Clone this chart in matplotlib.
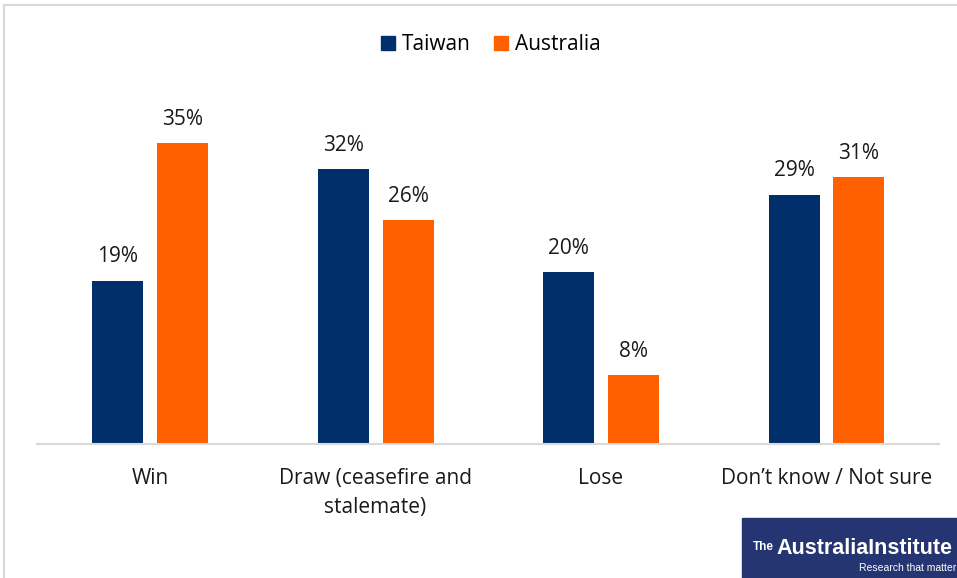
import matplotlib
matplotlib.use("Agg")
import matplotlib.pyplot as plt
from matplotlib.patches import Rectangle
from matplotlib.lines import Line2D

plt.rcParams['font.family'] = ['Open Sans', 'DejaVu Sans']

categories = ["Win", "Draw (ceasefire and\nstalemate)", "Lose", "Don\u2019t know / Not sure"]
series_names = ["Taiwan", "Australia"]
taiwan = [19, 32, 20, 29]
australia = [35, 26, 8, 31]
colors = ["#002F6C", "#FF6000"]

W, H = 957, 578
fig = plt.figure(figsize=(W / 100, H / 100), dpi=100)

# frame lines along the top and left edges
fig.add_artist(Line2D([4 / W, 4 / W], [0, 1 - 5 / H], color="#d9d9d9", lw=1.5))
fig.add_artist(Line2D([4 / W, 1], [1 - 5 / H, 1 - 5 / H], color="#d9d9d9", lw=1.5))

ax = fig.add_axes([37.25 / W, (H - 444) / H, 902 / W, 344 / H])
ax.set_xlim(-0.5, 3.5)
ax.set_ylim(0, 40)

bw = 51 / 225.5
off = 32.5 / 225.5
x = list(range(len(categories)))
for vals, c, d in [(taiwan, colors[0], -off), (australia, colors[1], off)]:
    bars = ax.bar([i + d for i in x], vals, width=bw, color=c)
    for b, v in zip(bars, vals):
        ax.annotate(f"{v}%", (b.get_x() + b.get_width() / 2, v), xytext=(0, 9.5),
                    textcoords="offset points", ha="center", va="bottom",
                    fontsize=15, color="#1a1a1a")

for s in ["top", "right", "left"]:
    ax.spines[s].set_visible(False)
ax.spines["bottom"].set_color("#d9d9d9")
ax.spines["bottom"].set_linewidth(1.5)
ax.set_yticks([])
ax.set_xticks(x)
ax.set_xticklabels(categories, fontsize=15, color="#1a1a1a", linespacing=1.45)
ax.tick_params(axis="x", length=0, pad=17.5)

# legend
handles = [Rectangle((0, 0), 1, 1, color=c) for c in colors]
fig.legend(handles, series_names, loc="center", bbox_to_anchor=(491 / W, 1 - 45 / H),
           ncol=2, frameon=False, fontsize=15, handlelength=0.65, handleheight=0.65,
           handletextpad=0.35, columnspacing=1.1)

# institute badge
fig.add_artist(Rectangle((742 / W, 0), (W - 742) / W, 60 / H, transform=fig.transFigure,
                         color="#243572", zorder=5))
fig.text(753 / W, 1 - 550 / H, "The", fontsize=8.5, color="white", zorder=6,
         ha="left", va="baseline", family="Liberation Sans", fontweight="bold")
fig.text(776 / W, 1 - 554 / H, "AustraliaInstitute", fontsize=15.5, color="white", zorder=6,
         ha="left", va="baseline", family="Liberation Sans", fontweight="bold")
fig.text(956 / W, 1 - 571 / H, "Research that matter", fontsize=7.5, color="white", zorder=6,
         ha="right", va="baseline", family="Liberation Sans")

fig.savefig("out.png", dpi=100)
